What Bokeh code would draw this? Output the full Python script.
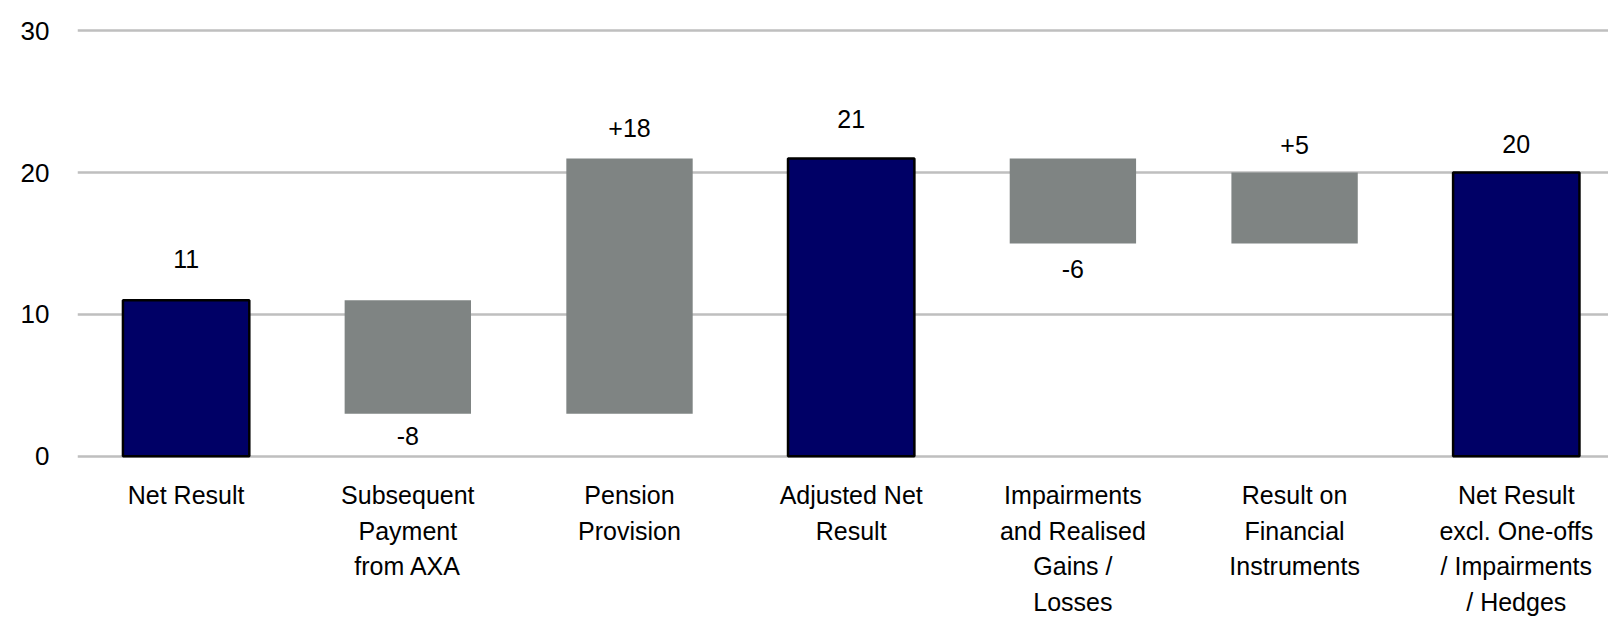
from bokeh.plotting import figure
from bokeh.models import Range1d, FixedTicker, ColumnDataSource
from bokeh.core.properties import value
from bokeh.embed import file_html
from bokeh.resources import INLINE

# ---- data ----
categories = [
    "Net Result",
    "Subsequent\nPayment\nfrom AXA",
    "Pension\nProvision",
    "Adjusted Net\nResult",
    "Impairments\nand Realised\nGains /\nLosses",
    "Result on\nFinancial\nInstruments",
    "Net Result\nexcl. One-offs\n/ Impairments\n/ Hedges",
]
values = [11, -8, 18, 21, -6, 5, 20]
is_total = [True, False, False, True, False, False, True]
y_ticks = [0, 10, 20, 30]

# ---- styles ----
NAVY = "#000066"
GRAY = "#7f8483"
FONT = "Liberation Sans"
label_offsets = [-41, 22, -30, -39, 25, -28, -29]  # pixel offsets of value labels

# ---- build waterfall geometry from the values ----
xs = list(range(len(categories)))
bottoms, tops, fills, lines, labels, label_y = [], [], [], [], [], []
running = 0
for v, tot in zip(values, is_total):
    if tot:
        running = v
        bottoms.append(0)
        tops.append(v)
        fills.append(NAVY)
        lines.append("black")
        labels.append(str(v))
        label_y.append(v)
    else:
        new = running + v
        bottoms.append(min(running, new))
        tops.append(max(running, new))
        fills.append(GRAY)
        lines.append(None)
        labels.append(("+" if v > 0 else "") + str(v))
        label_y.append(max(running, new) if v > 0 else min(running, new))
        running = new

src = ColumnDataSource(dict(x=xs, bottom=bottoms, top=tops, fill=fills,
                            line=lines, label=labels, ly=label_y,
                            off=label_offsets, cat=categories,
                            zero=[0] * len(xs)))

p = figure(width=1608, height=619, output_backend="svg", toolbar_location=None,
           x_range=Range1d(-0.49, 6.416), y_range=Range1d(-11.5, 31),
           x_axis_location=None,
           min_border_left=77, min_border_right=0, min_border_top=16,
           min_border_bottom=0)
p.outline_line_color = None
p.background_fill_color = "white"
p.border_fill_color = "white"

p.vbar(x="x", bottom="bottom", top="top", width=0.57, fill_color="fill",
       line_color="line", line_width=2.5, source=src)

# value labels
p.text(x="x", y="ly", text="label", y_offset="off", source=src,
       text_align="center", text_baseline="middle",
       text_font=value(FONT), text_font_size="25px", text_color="black")

# category labels
p.text(x="x", y="zero", text="cat", source=src, y_offset=25,
       text_align="center", text_baseline="top", text_line_height=1.27,
       text_font=value(FONT), text_font_size="25px", text_color="black")

ax = p.yaxis[0]
ax.ticker = FixedTicker(ticks=y_ticks, minor_ticks=[])
ax.axis_line_color = None
ax.major_tick_line_color = None
ax.minor_tick_line_color = None
ax.major_tick_out = 0
ax.major_tick_in = 0
ax.major_label_standoff = 28
ax.major_label_text_font = FONT
ax.major_label_text_font_size = "26px"
ax.major_label_text_color = "black"

p.ygrid.grid_line_color = "#bfbfbf"
p.ygrid.grid_line_width = 2.5
p.xgrid.visible = False

open("out.html", "w").write(file_html(p, INLINE))
